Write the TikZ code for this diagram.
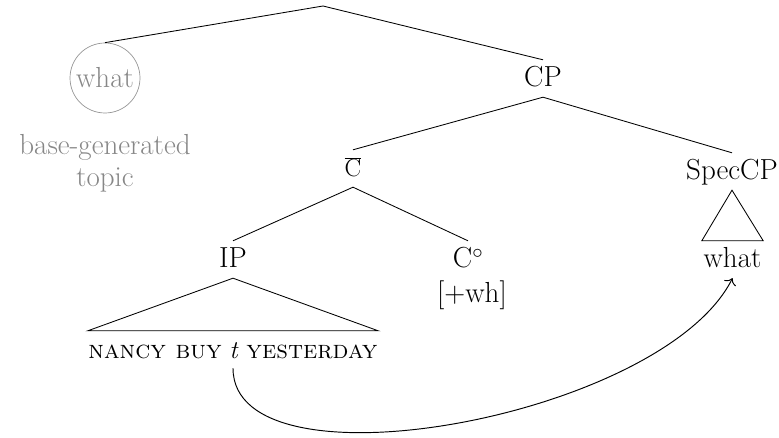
\documentclass[tikz,border=0pt]{standalone}
\usetikzlibrary{arrows.meta}
\definecolor{topicgray}{RGB}{135,135,135}
\definecolor{ringgray}{RGB}{150,150,150}
\newcommand{\treefont}{\fontsize{29}{32}\selectfont}
\begin{document}
\begin{tikzpicture}[x=1pt,y=-1pt,
  branch/.style={line width=0.85pt},
  cat/.style={font=\treefont, anchor=base, inner xsep=2pt, inner ysep=7pt,
              text height=20pt, text depth=3pt},
  leaf/.style={font=\treefont, anchor=base, inner xsep=0pt, inner ysep=0pt,
               text height=27pt, text depth=10pt},
  roof/.style={line width=0.85pt, line join=miter}
]
\useasboundingbox (0,0) rectangle (779,438);

% tree nodes
\coordinate (root) at (323,6);
\node[circle, draw=ringgray, line width=0.7pt, text=topicgray, font=\treefont,
      minimum size=70pt, inner sep=0pt] (topic) at (105,78) {what};
\node[font=\treefont, text=topicgray, align=center, anchor=base,
      inner sep=0pt] (topiclbl) at (105,187) {base-generated\\topic};
\node[cat] (cp) at (543,87) {CP};
\node[cat] (cbar) at (353,177) {$\overline{\mathrm{C}}$};
\node[cat] (spec) at (732,180) {SpecCP};
\node[cat] (ip) at (233,268) {IP};
\node[cat] (chead) at (468,268) {C$^\circ$};
\node[font=\treefont, anchor=base, inner sep=0pt] (feat) at (472,303) {[+wh]};
\node[leaf, minimum width=61pt] (what) at (732.5,268) {what};
\node[leaf, minimum width=290pt, font=\fontsize{25.5}{30}\selectfont] (ipw) at (233,358)
  {\textsc{nancy buy} \textit{t} \textsc{yesterday}};

% branches
\draw[branch] (topic.north) -- (root) -- (cp.north);
\draw[branch] (cbar.north) -- (cp.south) -- (spec.north);
\draw[branch] (ip.north) -- (cbar.south) -- (chead.north);

% roofs over unanalysed constituents
\draw[roof] (ipw.north west) -- (ip.south) -- (ipw.north east) -- cycle;
\draw[roof] (what.north west) -- (spec.south) -- (what.north east) -- cycle;

% movement of the trace to SpecCP
\draw[line width=0.95pt, -{Computer Modern Rightarrow[length=6pt,width=13pt]}]
  (ipw.south) .. controls +(0,127) and +(-70,140) .. (what.south);
\end{tikzpicture}
\end{document}
